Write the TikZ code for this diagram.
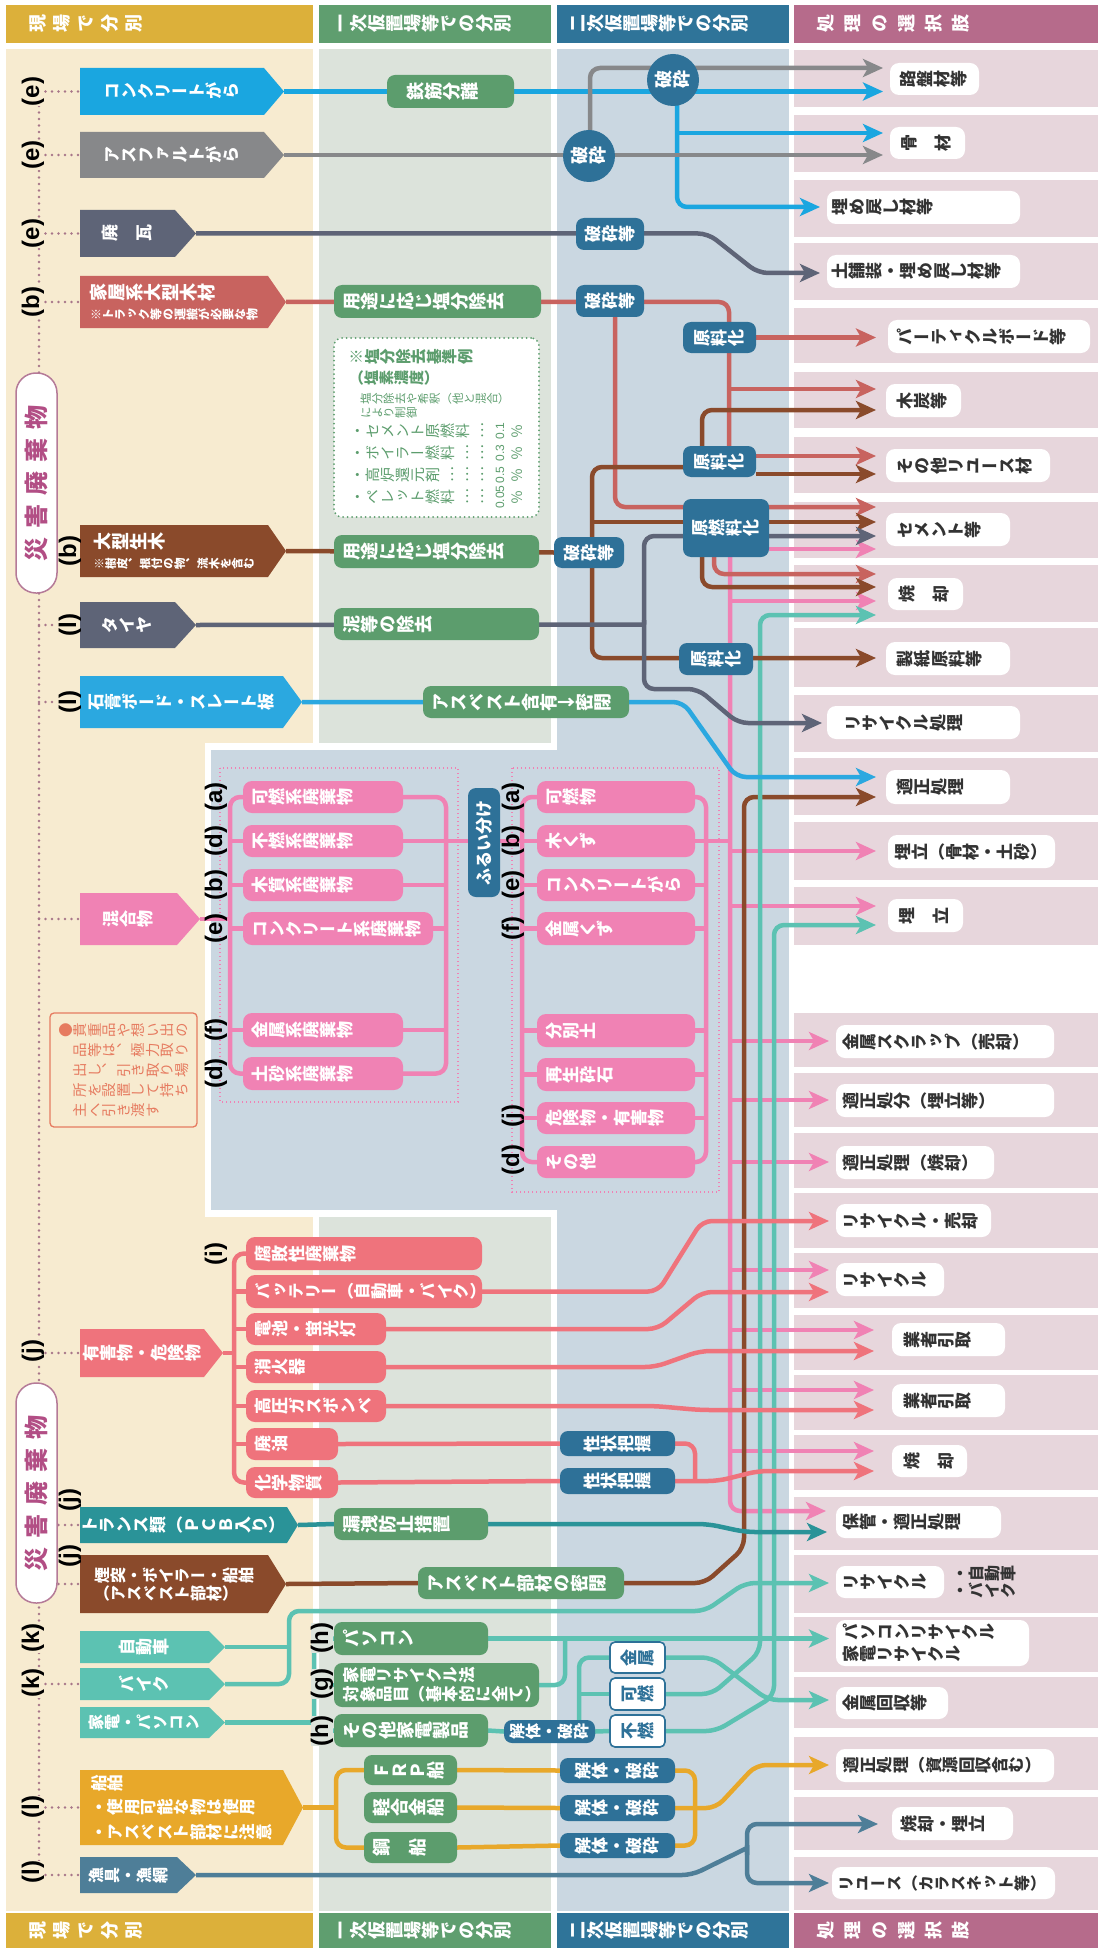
\documentclass[tikz,border=0pt]{standalone}
\usepackage{fontspec}
\setsansfont{Liberation Sans}
\newfontfamily\vt[Vertical=RotatedGlyphs]{Noto Sans CJK JP}
\newfontfamily\jp{Noto Sans CJK JP}
\usetikzlibrary{arrows.meta}
\pgfdeclarelayer{bg}
\pgfdeclarelayer{lines}
\pgfsetlayers{bg,lines,main}
\newcommand\fsz[1]{\fontsize{#1}{#1}\selectfont}
\makeatletter
\def\vr#1{\vr@loop#1\vr@end}
\def\vr@end{\vr@end}
\def\vr@loop#1{\ifx#1\vr@end\else\vr@one{#1}\expandafter\vr@loop\fi}
\def\vr@one#1{\rotatebox{90}{\makebox[1em][c]{#1}\rule[-0.12em]{0pt}{1em}}}
\makeatother
\definecolor{hdY}{HTML}{DCB03A}
\definecolor{hdG}{HTML}{5F9E6F}
\definecolor{hdB}{HTML}{2F7499}
\definecolor{hdM}{HTML}{B66B8B}
\definecolor{bgA}{HTML}{F7EBD0}
\definecolor{bgB}{HTML}{DCE3DB}
\definecolor{bgC}{HTML}{CAD7E1}
\definecolor{bgD}{HTML}{E7D6DC}
\definecolor{gB}{HTML}{5C9D6D}
\definecolor{dB}{HTML}{2E7198}
\definecolor{cConc}{HTML}{1AA6E0}
\definecolor{cAsph}{HTML}{87888A}
\definecolor{cSlate}{HTML}{5E6477}
\definecolor{cSalm}{HTML}{C8635F}
\definecolor{cBrown}{HTML}{8A4A2B}
\definecolor{cSekko}{HTML}{2BA8E0}
\definecolor{cPink}{HTML}{F082B4}
\definecolor{cCoral}{HTML}{EF737C}
\definecolor{cDTeal}{HTML}{2A9398}
\definecolor{cTeal}{HTML}{5CC2B2}
\definecolor{cGold}{HTML}{E8A82A}
\definecolor{cSteel}{HTML}{4E7E98}
\definecolor{cMauve}{HTML}{A77589}
\definecolor{cSai}{HTML}{B24E85}
\definecolor{cSaiB}{HTML}{B57A98}
\definecolor{cNote}{HTML}{E67B60}
\definecolor{txt}{HTML}{333333}
\tikzset{
 base/.style={inner sep=0pt, outer sep=0pt},
 ln/.style={line width=4.5pt, rounded corners=10pt},
 arr/.style={-{Stealth[length=20pt,width=18pt,inset=5pt]}},
 gbox/.style={base, fill=gB, rounded corners=8pt, text=white, font=\vt\bfseries\fsz{18}, align=left},
 dbox/.style={base, fill=dB, rounded corners=8pt, text=white, font=\vt\bfseries\fsz{17}, align=center},
 circ/.style={base, circle, fill=dB, minimum size=52pt, text=white, font=\vt\bfseries\fsz{18}},
 pkbox/.style={base, fill=cPink, rounded corners=9pt, text=white, font=\vt\bfseries\fsz{17}, align=left},
 crbox/.style={base, fill=cCoral, rounded corners=9pt, text=white, font=\vt\bfseries\fsz{17}, align=left},
 wbox/.style={base, fill=white, draw=dB, line width=1.6pt, rounded corners=5pt, text=dB, font=\vt\bfseries\fsz{17}, align=center},
 lbox/.style={base, fill=white, rounded corners=9pt, text=txt, font=\vt\bfseries\fontsize{17}{22}\selectfont, align=left},
 ptext/.style={base, text=white, font=\vt\bfseries\fsz{17}, align=center},
 lab/.style={base, rotate=90, font=\sffamily\bfseries\fsz{24}},
 dotl/.style={cMauve, line width=2.6pt, line cap=round, dash pattern=on 0pt off 6.5pt},
 pdot/.style={cPink, line width=1.3pt, dash pattern=on 1.3pt off 2.7pt},
 htxt/.style={base, text=white, font=\vt\bfseries\fsz{18}, anchor=west},
 ntext/.style={base, anchor=west, text=gB},
 saibox/.style={base, rotate=90, fill=white, draw=cSaiB, line width=1.5pt, rounded corners=20pt, minimum width=220pt, minimum height=41pt, text=cSai, font=\jp\bfseries\fsz{24}},
}
% box with given corners: style name x1 y1 x2 y2 pad text
\newcommand\tb[8]{%
 \pgfmathsetmacro\tbw{#5-#3-2*#7}%
 \node[#1, text width=\tbw pt, inner xsep=#7pt, minimum height={#6-#4}] (#2) at ({(#3+#5)/2},{(#4+#6)/2}) {#8};}
% pentagon: [opt] name x1 y1 xflat xtip y2 color text
\newcommand\pent[9][]{%
 \fill[#8] (#3,#4) -- (#5,#4) -- (#6,{(#4+#7)/2}) -- (#5,#7) -- (#3,#7) -- cycle;
 \node[ptext, minimum width={#5-#3}, minimum height={#7-#4}, #1] (#2) at ({(#3+#5)/2},{(#4+#7)/2}) {#9};
 \coordinate (#2tip) at (#6,{(#4+#7)/2});}
\begin{document}
\begin{tikzpicture}[x=1pt,y=-1pt]
\useasboundingbox (0,0) rectangle (1098,1950);
\begin{pgfonlayer}{bg}
\fill[white] (0,0) rectangle (1098,1950);
\foreach \ya/\yb in {5/43,1913/1948}{
 \fill[hdY] (6,\ya) rectangle (313,\yb);
 \fill[hdG] (319,\ya) rectangle (551,\yb);
 \fill[hdB] (557,\ya) rectangle (789,\yb);
 \fill[hdM] (794,\ya) rectangle (1098,\yb);}
\fill[bgA] (6,49) rectangle (313,1911);
\fill[bgB] (319,49) rectangle (551,743);
\fill[bgB] (319,1217) rectangle (551,1911);
\fill[bgC] (557,49) rectangle (789,1911);
\fill[white] (205,743) rectangle (557,1217);
\fill[bgC] (211,750) rectangle (789,1210);
\foreach \a/\b in {50/107,115/172,180/237,243/300,308/363,372/428,437/493,502/558,565/622,628/687,695/752,758/815,822/880,887/945,1013/1067,1073/1127,1133/1188,1193/1248,1253/1308,1315/1370,1375/1430,1435/1490,1497/1550,1555/1613,1617/1672,1677/1728,1737/1790,1797/1850,1857/1910}{
 \fill[bgD] (794,\a) rectangle (1098,\b);}
\end{pgfonlayer}
% headers
\foreach \y/\s in {24/t,1930/b}{
 \node[htxt] (h1\s) at (29,\y) {\vr{現}\kern6pt\vr{場}\kern6pt\vr{で}\kern6pt\vr{分}\kern6pt\vr{別}};
 \node[htxt] (h2\s) at (332,\y) {\vr{一次仮置場等での分別}};
 \node[htxt] (h3\s) at (569,\y) {\vr{二次仮置場等での分別}};
 \node[htxt] (h4\s) at (817,\y) {\vr{処}\kern9pt\vr{理}\kern9pt\vr{の}\kern9pt\vr{選}\kern9pt\vr{択}\kern9pt\vr{肢}};}
% left column
\pent{conc}{80}{68}{264}{284}{115}{cConc}{\vr{コンクリートがら}}
\pent{asph}{80}{132}{264}{284}{178}{cAsph}{\vr{アスファルトがら}}
\pent{kawara}{80}{210}{175}{196}{257}{cSlate}{\vr{廃　瓦}}
\pent[align=left,font=\vt\bfseries\fontsize{18}{19}\selectfont]{kaoku}{80}{276}{268}{286}{328}{cSalm}{\vr{家屋系大型木材}\\{\fsz{12}\vr{※トラック等の運搬が必要な物}}}
\pent[align=left,font=\vt\bfseries\fontsize{18}{19}\selectfont]{namaki}{80}{525}{268}{286}{577}{cBrown}{\vr{大型生木}\\{\fsz{11.5}\vr{※樹皮、根付の物、流木を含む}}}
\pent{tire}{80}{602}{175}{196}{648}{cSlate}{\vr{タイヤ}}
\pent{sekko}{80}{676}{283}{302}{728}{cSekko}{\vr{石膏ボード・スレート板}}
\pent{kongo}{80}{893}{177}{200}{945}{cPink}{\vr{混合物}}
\pent{yugai}{80}{1329}{204}{223}{1377}{cCoral}{\vr{有害物・危険物}}
\pent{trans}{80}{1507}{287}{298}{1543}{cDTeal}{\vr{トランス類（ＰＣＢ入り）}}
\pent[align=left,font=\vt\bfseries\fontsize{16}{18}\selectfont]{entotsu}{80}{1555}{268}{286}{1613}{cBrown}{\vr{煙突・ボイラー・船舶}\\\vr{（アスベスト部材）}}
\pent{jidosha}{80}{1631}{209}{225}{1663}{cTeal}{\vr{自動車}}
\pent{bike}{80}{1668}{209}{225}{1700}{cTeal}{\vr{バイク}}
\pent[font=\vt\bfseries\fsz{16}]{kaden}{80}{1707}{209}{225}{1738}{cTeal}{\vr{家電・パソコン}}
\pent[align=left,font=\vt\bfseries\fontsize{16.5}{24.5}\selectfont]{senpaku}{80}{1770}{283}{303}{1845}{cGold}{\vr{船舶}\\\vr{・使用可能な物は使用}\\\vr{・アスベスト部材に注意}}
\pent[font=\vt\bfseries\fsz{16}]{gyogu}{80}{1857}{177}{196}{1893}{cSteel}{\vr{漁具・漁網}}
% left labels
\node[lab, fill=bgA] (l1) at (33,91.5) {(e)};
\node[lab, fill=bgA] (l2) at (33,155) {(e)};
\node[lab, fill=bgA] (l3) at (33,233.5) {(e)};
\node[lab, fill=bgA] (l4) at (33,302) {(b)};
\node[lab] (l5) at (70,551) {(b)};
\node[lab] (l6) at (70,625) {(l)};
\node[lab] (l7) at (70,702) {(l)};
\node[lab, fill=bgA] (l8) at (33,1351) {(j)};
\node[lab] (l9) at (70,1500) {(j)};
\node[lab] (l10) at (70,1556) {(j)};
\node[lab, fill=bgA] (l11) at (33,1638) {(k)};
\node[lab, fill=bgA] (l12) at (33,1683) {(k)};
\node[lab, fill=bgA] (l13) at (33,1807) {(l)};
\node[lab, fill=bgA] (l14) at (33,1872) {(l)};
\node[saibox] (sai1) at (36.5,483) {災\kern9pt 害\kern9pt 廃\kern9pt 棄\kern9pt 物};
\node[saibox] (sai2) at (36.5,1493) {災\kern9pt 害\kern9pt 廃\kern9pt 棄\kern9pt 物};
\node[base, draw=cNote, line width=1.3pt, rounded corners=4pt, minimum width=147pt, minimum height=114pt, align=left, text=cNote, font=\vt\fontsize{14.5}{20}\selectfont] (memo) at (123.5,1070) {\vr{●貴重品や想い出の}\\\vr{　品等は、極力取り}\\\vr{　出し、引き取り場}\\\vr{　所を設置して持ち}\\\vr{　主へ引き渡す}};
% column 2
\tb{gbox}{tekkin}{387}{75}{514}{108}{20}{\vr{鉄筋分離}}
\tb{gbox}{enbun1}{334}{285}{541}{318}{9}{\vr{用途に応じ塩分除去}}
\node[base, fill=white, draw=gB, line width=2pt, line cap=round, dash pattern=on 0pt off 4.5pt, rounded corners=8pt, minimum width=205pt, minimum height=179pt] (note) at (436.5,427.5) {};
\node[ntext, font=\vt\bfseries\fsz{15.5}] (n1) at (349,357) {\vr{※塩分除去基準例}};
\node[ntext, font=\vt\bfseries\fsz{15}] (n2) at (349,378) {\vr{（塩素濃度）}};
\node[ntext, font=\vt\fsz{11.5}] (n3) at (360,399) {\vr{塩分除去や希釈（他と混合）}};
\node[ntext, font=\vt\fsz{11.5}] (n4) at (360,413) {\vr{により制御}};
\node[ntext, font=\vt\fsz{15}] (n5) at (350,431) {\vr{・セメント原燃料…}};
\node[ntext, font=\vt\fsz{15}] (n6) at (350,453) {\vr{・ボイラー燃料……}};
\node[ntext, font=\vt\fsz{15}] (n7) at (350,475) {\vr{・高炉還元剤………}};
\node[ntext, font=\vt\fsz{15}] (n8) at (350,497) {\vr{・ペレット燃料……}};
\foreach \y/\v in {431/0.1,453/0.3,475/0.5,497/0.05}{
 \node[base, rotate=90, font=\sffamily\fsz{12}, text=gB] (v\y) at (500,\y) {\v};
 \node[ntext, font=\vt\fsz{14}] (p\y) at (510,\y) {\vr{％}};}
\tb{gbox}{enbun2}{334}{535}{539}{568}{9}{\vr{用途に応じ塩分除去}}
\tb{gbox}{doro}{334}{608}{539}{640}{9}{\vr{泥等の除去}}
\tb{gbox}{asbest}{423}{686}{629}{718}{9}{\vr{アスベスト含有↓密閉}}
\tb{gbox}{roei}{334}{1508}{488}{1540}{9}{\vr{漏洩防止措置}}
\tb{gbox}{asbest2}{418}{1567}{624}{1599}{9}{\vr{アスベスト部材の密閉}}
\tb{gbox}{pc}{334}{1622}{488}{1655}{9}{\vr{パソコン}}
\tb{gbox,font=\vt\bfseries\fontsize{16.5}{19}\selectfont}{kadenho}{334}{1663}{539}{1707}{9}{\vr{家電リサイクル法}\\\vr{対象品目（基本的に全て）}}
\tb{gbox}{sonota}{334}{1714}{488}{1747}{9}{\vr{その他家電製品}}
\tb{gbox}{frp}{364}{1755}{457}{1785}{9}{\vr{ＦＲＰ船}}
\tb{gbox}{keigokin}{364}{1792}{457}{1823}{9}{\vr{軽合金船}}
\tb{gbox}{kou}{364}{1832}{457}{1863}{9}{\vr{鋼　船}}
\node[lab, fill=bgB] (lh1) at (322,1638) {(h)};
\node[lab, fill=bgB] (lg) at (322,1684) {(g)};
\node[lab, fill=bgB] (lh2) at (322,1731) {(h)};
% mixed waste
\foreach \y/\t [count=\i] in {797/a,841/d,885/b,928.5/e,1030/f,1073.5/d}{\node[lab] (ml\i) at (216,\y) {(\t)};}
\tb{pkbox}{ka1}{243}{781}{403}{813}{9}{\vr{可燃系廃棄物}}
\tb{pkbox}{fu1}{243}{825}{403}{857}{9}{\vr{不燃系廃棄物}}
\tb{pkbox}{mo1}{243}{869}{403}{901}{9}{\vr{木質系廃棄物}}
\tb{pkbox}{ko1}{243}{912}{433}{945}{9}{\vr{コンクリート系廃棄物}}
\tb{pkbox}{ki1}{243}{1013}{403}{1047}{9}{\vr{金属系廃棄物}}
\tb{pkbox}{do1}{243}{1057}{403}{1090}{9}{\vr{土砂系廃棄物}}
\node[base, rotate=90, fill=dB, rounded corners=8pt, minimum width=109pt, minimum height=32pt, text=white, font=\jp\bfseries\fsz{17}] (furui) at (484,842.5) {ふるい分け};
\foreach \y/\t [count=\i] in {797/a,841/b,885/e,928.5/f,1116/j,1160/d}{\node[lab] (mr\i) at (513,\y) {(\t)};}
\tb{pkbox}{ka2}{537}{781}{695}{813}{9}{\vr{可燃物}}
\tb{pkbox}{kikuzu}{537}{825}{695}{857}{9}{\vr{木くず}}
\tb{pkbox}{kongara}{537}{869}{695}{901}{9}{\vr{コンクリートがら}}
\tb{pkbox}{kinkuzu}{537}{912}{695}{945}{9}{\vr{金属くず}}
\tb{pkbox}{bunbetsu}{537}{1014}{695}{1047}{9}{\vr{分別土}}
\tb{pkbox}{saisei}{537}{1058}{695}{1091}{9}{\vr{再生砕石}}
\tb{pkbox}{kiken}{537}{1102}{695}{1134}{9}{\vr{危険物・有害物}}
\tb{pkbox}{sonota2}{537}{1146}{695}{1178}{9}{\vr{その他}}
% hazardous
\node[lab] (li) at (216,1254) {(i)};
\tb{crbox}{fuhai}{246}{1237}{482}{1270}{9}{\vr{腐敗性廃棄物}}
\tb{crbox,font=\vt\bfseries\fsz{16.5}}{battery}{246}{1275}{482}{1308}{9}{\vr{バッテリー（自動車・バイク）}}
\tb{crbox}{denchi}{246}{1313}{386}{1345}{9}{\vr{電池・蛍光灯}}
\tb{crbox}{shoka}{246}{1351}{386}{1383}{9}{\vr{消火器}}
\tb{crbox}{koatsu}{246}{1390}{386}{1422}{9}{\vr{高圧ガスボンベ}}
\tb{crbox}{haiyu}{246}{1428}{338}{1460}{9}{\vr{廃油}}
\tb{crbox}{kagaku}{246}{1467}{338}{1498}{9}{\vr{化学物質}}
% column 3
\node[circ] (hasai1) at (673,80) {\vr{破砕}};
\node[circ] (hasai2) at (589,156) {\vr{破砕}};
\tb{dbox}{hasaiT1}{576}{218}{644}{250}{4}{\vr{破砕等}}
\tb{dbox}{hasaiT2}{576}{285}{644}{317}{4}{\vr{破砕等}}
\tb{dbox}{genryo1}{683}{322}{756}{353}{4}{\vr{原料化}}
\tb{dbox}{genryo2}{683}{446}{756}{477}{4}{\vr{原料化}}
\tb{dbox}{gennen}{683}{499}{769}{557}{4}{\vr{原燃料化}}
\tb{dbox}{hasaiT3}{554}{537}{624}{568}{4}{\vr{破砕等}}
\tb{dbox}{genryo3}{679}{643}{753}{675}{4}{\vr{原料化}}
\tb{dbox}{seijo1}{560}{1431}{675}{1456}{4}{\vr{性状把握}}
\tb{dbox}{seijo2}{560}{1468}{675}{1494}{4}{\vr{性状把握}}
\tb{dbox,font=\vt\bfseries\fsz{16}}{kaitai0}{504}{1720}{595}{1743}{3}{\vr{解体・破砕}}
\tb{dbox}{kaitai1}{560}{1758}{675}{1783}{4}{\vr{解体・破砕}}
\tb{dbox}{kaitai2}{560}{1795}{675}{1821}{4}{\vr{解体・破砕}}
\tb{dbox}{kaitai3}{560}{1833}{675}{1858}{4}{\vr{解体・破砕}}
\tb{wbox}{kinzoku}{610}{1642}{665}{1673}{4}{\vr{金属}}
\tb{wbox}{kanen}{610}{1678}{665}{1710}{4}{\vr{可燃}}
\tb{wbox}{funen}{610}{1715}{665}{1747}{4}{\vr{不燃}}
% column 4
\tb{lbox}{r1}{890}{63}{979}{95}{10}{\vr{路盤材等}}
\tb{lbox}{r2}{890}{127}{965}{159}{11}{\vr{骨　材}}
\tb{lbox}{r3}{827}{191}{1020}{224}{5}{\vr{埋め戻し材等}}
\tb{lbox}{r4}{827}{255}{1020}{288}{5}{\vr{土舗装・埋め戻し材等}}
\tb{lbox}{r5}{888}{320}{1090}{353}{9}{\vr{パーティクルボード等}}
\tb{lbox}{r6}{886}{384}{961}{417}{11}{\vr{木炭等}}
\tb{lbox}{r7}{886}{449}{1050}{482}{11}{\vr{その他リユース材}}
\tb{lbox}{r8}{886}{513}{1010}{546}{11}{\vr{セメント等}}
\tb{lbox}{r9}{888}{578}{963}{610}{11}{\vr{焼　却}}
\tb{lbox}{r10}{886}{642}{1010}{675}{11}{\vr{製紙原料等}}
\tb{lbox}{r11}{827}{706}{1020}{739}{18}{\vr{リサイクル処理}}
\tb{lbox}{r12}{886}{770}{1010}{804}{11}{\vr{適正処理}}
\tb{lbox}{r13}{888}{835}{1055}{868}{7}{\vr{埋立（骨材・土砂）}}
\tb{lbox}{r14}{888}{899}{963}{932}{11}{\vr{埋　立}}
\tb{lbox}{r15}{836}{1025}{1054}{1058}{7}{\vr{金属スクラップ（売却）}}
\tb{lbox}{r16}{836}{1084}{1054}{1117}{7}{\vr{適正処分（埋立等）}}
\tb{lbox}{r17}{836}{1146}{994}{1179}{7}{\vr{適正処理（焼却）}}
\tb{lbox}{r18}{836}{1204}{991}{1237}{7}{\vr{リサイクル・売却}}
\tb{lbox}{r19}{836}{1263}{944}{1296}{7}{\vr{リサイクル}}
\tb{lbox}{r20}{892}{1323}{1005}{1356}{12}{\vr{業者引取}}
\tb{lbox}{r21}{892}{1384}{1005}{1417}{12}{\vr{業者引取}}
\tb{lbox}{r22}{892}{1445}{967}{1477}{12}{\vr{焼　却}}
\tb{lbox}{r23}{836}{1506}{1001}{1538}{7}{\vr{保管・適正処理}}
\tb{lbox}{r24}{836}{1566}{944}{1598}{7}{\vr{リサイクル}}
\node[base, anchor=west, align=left, text=txt, font=\vt\bfseries\fontsize{16}{17}\selectfont] (r24b) at (952,1582) {\vr{・自動車}\\\vr{・バイク}};
\tb{lbox}{r25}{836}{1620}{1029}{1666}{7}{\vr{パソコンリサイクル}\\\vr{家電リサイクル}}
\tb{lbox}{r26}{836}{1687}{948}{1719}{7}{\vr{金属回収等}}
\tb{lbox,font=\vt\bfseries\fsz{16.5}}{r27}{836}{1749}{1054}{1782}{7}{\vr{適正処理（資源回収含む）}}
\tb{lbox}{r28}{892}{1807}{1013}{1840}{9}{\vr{焼却・埋立}}
\tb{lbox,font=\vt\bfseries\fsz{16}}{r29}{832}{1867}{1055}{1899}{6}{\vr{リユース（カラスネット等）}}
% connectors
\begin{pgfonlayer}{lines}
\draw[dotl] (39,80) -- (39,1885);
\foreach \y in {91.5,155,233.5,302,919,1353,1525,1584,1684,1807.5,1875}{\draw[dotl] (39,\y) -- (80,\y);}
\foreach \y in {551,625,702}{\draw[dotl] (39,\y) -- (56,\y);}
\draw[pdot] (220,768) rectangle (458,1102);
\draw[pdot] (512,768) rectangle (719,1192);
% pink
\draw[ln,cPink] (kongotip) -- (230,919);
\draw[ln,cPink] (ka1.west) -- (230,797) -- (230,1073.5) -- (do1.west);
\foreach \n in {fu1,mo1,ko1,ki1}{\draw[ln,cPink] (\n.west -| 230,0) -- (\n.west);}
\draw[ln,cPink] (ka1.east) -- (446,797) -- (446,1073.5) -- (do1.east);
\foreach \n in {fu1,mo1,ko1,ki1}{\draw[ln,cPink] (\n.east) -- (\n.east -| 446,0);}
\draw[ln,cPink] (446,841) -- (kikuzu.west);
\draw[ln,cPink] (ka2.west) -- (522,797) -- (522,1162) -- (sonota2.west);
\foreach \n in {kikuzu,kongara,kinkuzu,bunbetsu,saisei,kiken}{\draw[ln,cPink] (\n.west -| 522,0) -- (\n.west);}
\draw[ln,cPink] (ka2.east) -- (706,797) -- (706,1162) -- (sonota2.east);
\foreach \n in {kikuzu,kongara,kinkuzu,bunbetsu,saisei,kiken}{\draw[ln,cPink] (\n.east) -- (\n.east -| 706,0);}
\draw[ln,cPink] (706,841) -- (730,841);
\draw[ln,cPink,arr] (730,550) -- (730,1511) -- (826,1511);
\draw[ln,cPink,arr] (gennen.east |- 0,549) -- (876,549);
\foreach \y in {601,851,906}{\draw[ln,cPink,arr] (730,\y) -- (876,\y);}
\foreach \y in {1041,1100,1162,1270}{\draw[ln,cPink,arr] (730,\y) -- (829,\y);}
\foreach \y in {1330,1390,1451}{\draw[ln,cPink,arr] (730,\y) -- (874,\y);}
% long verticals
\draw[ln,cBrown,arr] (asbest2.east) -- (705,1583) -- (744,1548) -- (744,797) -- (876,797);
\draw[ln,cTeal,arr] (kanen.east) -- (712,1694) -- (760,1652) -- (760,615) -- (876,615);
\draw[ln,cTeal,arr] (funen.east) -- (716,1731) -- (774,1696) -- (774,925) -- (876,925);
\draw[ln,cTeal,arr] (kinzoku.east) -- (712,1657.5) -- (768,1700) -- (829,1700);
% upper rows
\draw[ln,cConc,arr] (conctip) -- (883,91.5);
\draw[ln,cConc,arr] (677,100) -- (677,207) -- (820,207);
\draw[ln,cConc,arr] (677,133) -- (883,133);
\draw[ln,cAsph,arr] (asphtip) -- (883,155);
\draw[ln,cAsph,arr] (590,140) -- (590,68) -- (883,68);
\draw[ln,cSlate,arr] (kawaratip) -- (708,233.5) -- (758,273) -- (820,273);
\draw[ln,cSalm] (kaokutip) -- (729,302) -- (729,450);
\draw[ln,cSalm,arr] (genryo1.east) -- (876,337.5);
\draw[ln,cSalm,arr] (729,389) -- (876,389);
\draw[ln,cSalm,arr] (genryo2.east |- 0,456) -- (876,456);
\draw[ln,cSalm,arr] (615,310) -- (615,507) -- (876,507);
\draw[ln,cSalm,arr] (714,550) -- (714,574) -- (876,574);
\draw[ln,cBrown] (namakitip) -- (hasaiT3.west);
\draw[ln,cBrown,arr] (683,467) -- (592,467) -- (592,658) -- (876,658);
\draw[ln,cBrown,arr] (592,522) -- (876,522);
\draw[ln,cBrown,arr] (756,474) -- (876,474);
\draw[ln,cBrown,arr] (702,450) -- (702,410) -- (876,410);
\draw[ln,cBrown,arr] (702,550) -- (702,587) -- (876,587);
\draw[ln,cSlate] (tiretip) -- (644,624.5);
\draw[ln,cSlate,arr] (644,624.5) -- (644,536) -- (876,536);
\draw[ln,cSlate,arr] (644,620) -- (644,689) -- (698,689) -- (738,723) -- (822,723);
\draw[ln,cSekko,arr] (sekkotip) -- (683,702) -- (736,777) -- (876,777);
% hazardous
\draw[ln,cCoral] (fuhai.west) -- (234,1253.5) -- (234,1482.5) -- (kagaku.west);
\foreach \n in {battery,denchi,shoka,koatsu,haiyu}{\draw[ln,cCoral] (\n.west -| 234,0) -- (\n.west);}
\draw[ln,cCoral] (yugaitip) -- (234,1353);
\draw[ln,cCoral,arr] (battery.east) -- (658,1291.5) -- (702,1221) -- (829,1221);
\draw[ln,cCoral,arr] (denchi.east) -- (658,1329) -- (702,1292) -- (829,1292);
\draw[ln,cCoral,arr] (shoka.east) -- (655,1367) -- (700,1351) -- (874,1351);
\draw[ln,cCoral,arr] (koatsu.east) -- (655,1406) -- (700,1410) -- (874,1410);
\draw[ln,cCoral] (haiyu.east) -- (seijo1.west);
\draw[ln,cCoral] (kagaku.east) -- (seijo2.west);
\draw[ln,cCoral] (seijo1.east) -- (695,1443.5) -- (695,1481);
\draw[ln,cCoral,arr] (seijo2.east) -- (718,1481) -- (758,1471) -- (874,1471);
% lower rows
\draw[ln,cDTeal] (transtip) -- (roei.west);
\draw[ln,cDTeal,arr] (roei.east) -- (708,1524) -- (745,1532) -- (827,1532);
\draw[ln,cBrown] (entotsutip) -- (asbest2.west);
\draw[ln,cTeal] (jidoshatip) -- (289,1647);
\draw[ln,cTeal,arr] (biketip) -- (289,1684) -- (289,1611) -- (705,1611) -- (745,1583) -- (829,1583);
\draw[ln,cTeal] (kadentip) -- (314,1722.5);
\draw[ln,cTeal] (pc.west) -- (314,1638.5) -- (314,1730.5) -- (sonota.west);
\draw[ln,cTeal] (314,1685) -- (kadenho.west);
\draw[ln,cTeal,arr] (pc.east) -- (829,1638.5);
\draw[ln,cTeal] (kadenho.east) -- (565,1685) -- (565,1638.5);
\draw[ln,cTeal] (sonota.east) -- (kaitai0.west);
\draw[ln,cTeal] (579,1725) -- (579,1657.5) -- (kinzoku.west);
\draw[ln,cTeal] (579,1694) -- (kanen.west);
\draw[ln,cTeal] (kaitai0.east) -- (funen.west);
\draw[ln,cGold] (senpakutip) -- (336,1807.5);
\draw[ln,cGold] (frp.west) -- (336,1770) -- (336,1847.5) -- (kou.west);
\draw[ln,cGold] (frp.east) -- (kaitai1.west);
\draw[ln,cGold] (keigokin.east) -- (kaitai2.west);
\draw[ln,cGold] (kou.east) -- (kaitai3.west);
\draw[ln,cGold] (kaitai1.east) -- (695,1770.5) -- (695,1845.5) -- (kaitai3.east);
\draw[ln,cGold,arr] (kaitai2.east) -- (716,1808) -- (756,1765) -- (829,1765);
\draw[ln,cSteel] (gyogutip) -- (692,1875) -- (747,1848);
\draw[ln,cSteel,arr] (747,1855) -- (747,1824) -- (878,1824);
\draw[ln,cSteel,arr] (747,1845) -- (747,1883) -- (829,1883);
\end{pgfonlayer}
\end{tikzpicture}
\end{document}
